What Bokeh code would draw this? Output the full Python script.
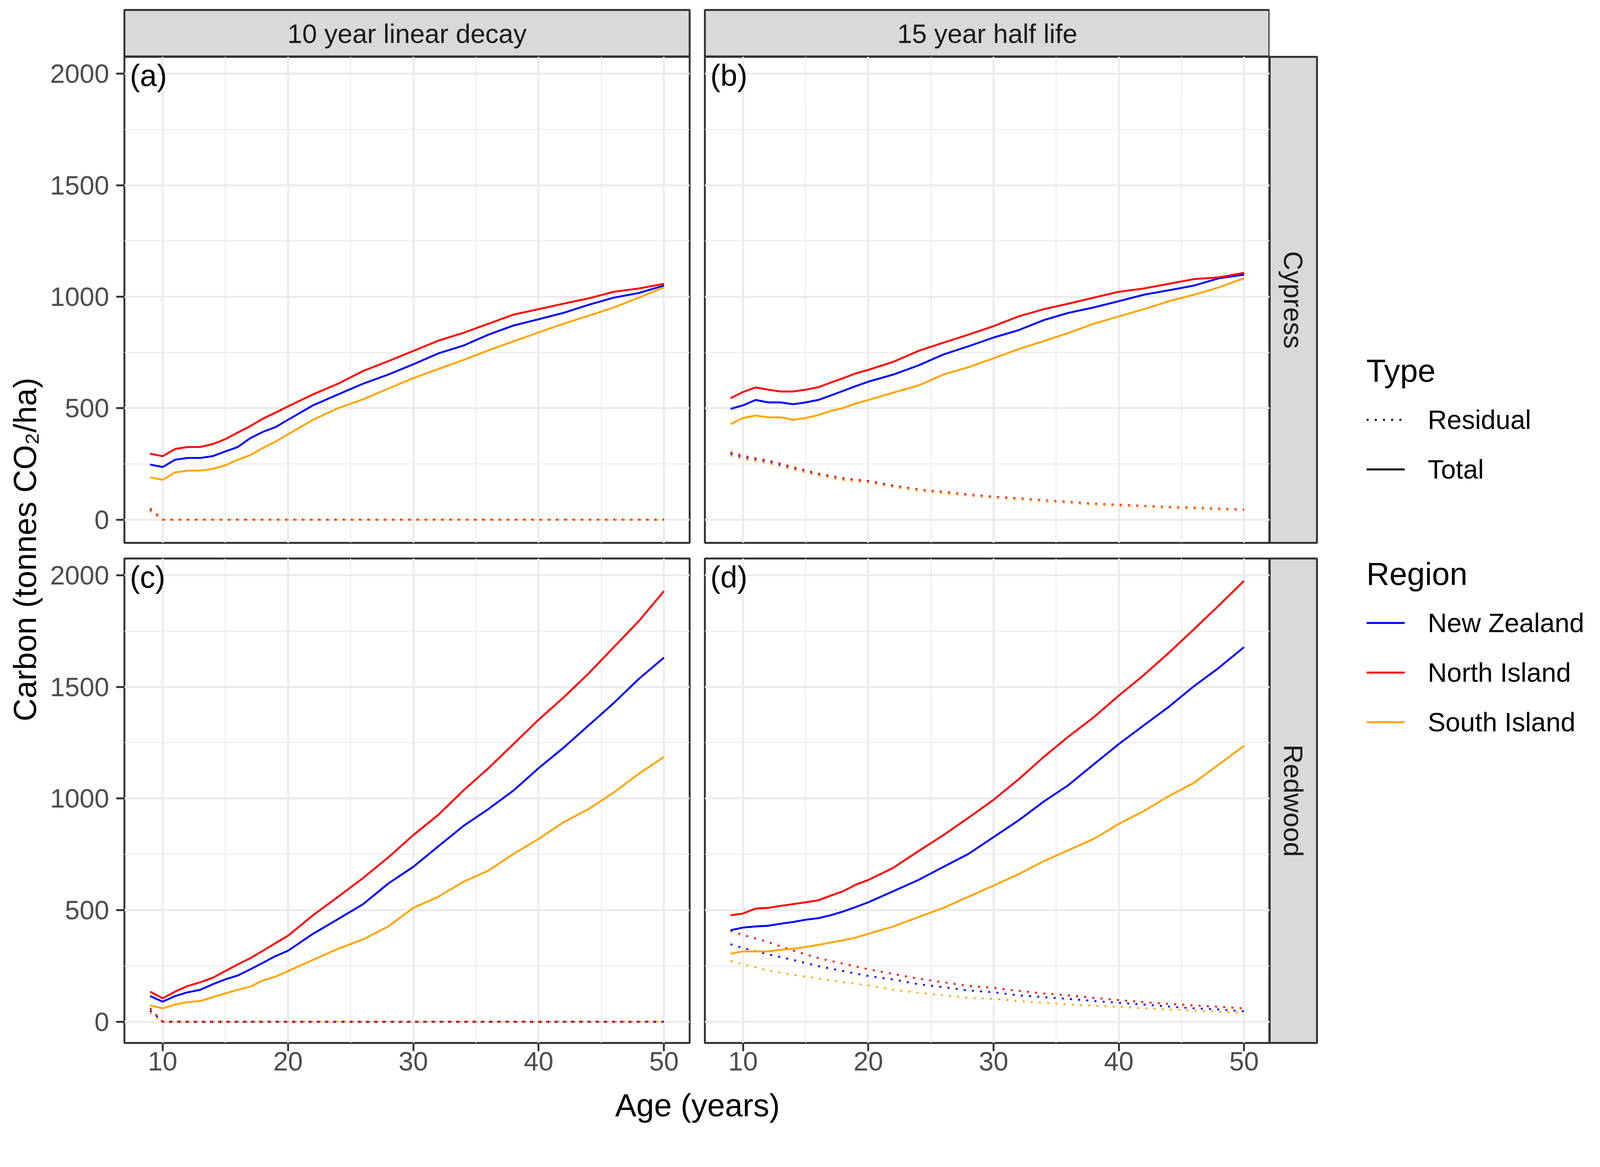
from math import pi
from bokeh.plotting import figure
from bokeh.models import Range1d, FixedTicker, LinearAxis, Legend, LegendItem, Label, Spacer, Grid
from bokeh.layouts import row, column
from bokeh.embed import file_html
from bokeh.resources import INLINE

# ---------------- data ----------------
COL_LABELS = ["10 year linear decay", "15 year half life"]
ROW_LABELS = ["Cypress", "Redwood"]
PANEL_TAGS = ["(a)", "(b)", "(c)", "(d)"]
REGIONS = ["New Zealand", "North Island", "South Island"]
REGION_COLORS = ["#0000FF", "#FF0000", "#FFA500"]
TYPES = ["Residual", "Total"]

X_TICKS = [10, 20, 30, 40, 50]
X_MINOR = [15, 25, 35, 45]
Y_TICKS = [0, 500, 1000, 1500, 2000]
Y_MINOR = [250, 750, 1250, 1750]

AGE = [9, 10, 11, 12, 13, 14, 15, 16, 17, 18, 19, 20, 22, 24, 26, 28, 30, 32, 34, 36, 38, 40, 42, 44, 46, 48, 50]
AGE_R = [9, 10, 12, 14, 16, 18, 20, 22, 24, 26, 28, 30, 32, 34, 36, 38, 40, 42, 44, 46, 48, 50]

# (a) Cypress, 10 year linear decay
A_TOT_NZ = [247, 236, 269, 277, 277, 285, 306, 326, 366, 394, 415, 448, 513, 562, 610, 651, 697, 746, 781, 830, 871, 899, 928, 964, 996, 1017, 1050]
A_TOT_NI = [296, 285, 317, 326, 326, 339, 361, 391, 420, 453, 480, 508, 562, 610, 667, 711, 757, 803, 838, 879, 920, 944, 969, 993, 1022, 1037, 1058]
A_TOT_SI = [190, 179, 212, 220, 220, 228, 244, 269, 290, 322, 350, 383, 448, 500, 540, 588, 635, 676, 716, 760, 800, 840, 879, 915, 952, 996, 1042]
A_RES_NZ = [45, 0, 0, 0, 0, 0, 0, 0, 0, 0, 0, 0, 0, 0, 0, 0, 0, 0, 0, 0, 0, 0]
A_RES_NI = [50, 0, 0, 0, 0, 0, 0, 0, 0, 0, 0, 0, 0, 0, 0, 0, 0, 0, 0, 0, 0, 0]
A_RES_SI = [40, 0, 0, 0, 0, 0, 0, 0, 0, 0, 0, 0, 0, 0, 0, 0, 0, 0, 0, 0, 0, 0]

# (b) Cypress, 15 year half life
B_TOT_NZ = [497, 513, 537, 526, 526, 518, 526, 537, 557, 578, 599, 619, 651, 692, 741, 778, 817, 850, 895, 928, 952, 980, 1009, 1029, 1050, 1083, 1099]
B_TOT_NI = [545, 573, 593, 583, 575, 575, 583, 594, 615, 635, 656, 672, 708, 757, 794, 830, 868, 912, 944, 969, 996, 1022, 1037, 1058, 1079, 1087, 1107]
B_TOT_SI = [428, 456, 467, 459, 459, 448, 456, 469, 488, 501, 521, 537, 570, 602, 651, 684, 724, 765, 801, 838, 879, 912, 944, 980, 1009, 1042, 1083]
B_RES_NZ = [296, 280, 260, 231, 203, 182, 171, 150, 133, 122, 111, 101, 94, 85, 78, 70, 65, 60, 55, 52, 47, 44]
B_RES_NI = [302, 286, 266, 236, 207, 186, 174, 153, 136, 125, 113, 103, 96, 87, 80, 72, 67, 62, 57, 54, 49, 46]
B_RES_SI = [288, 273, 253, 225, 198, 177, 166, 146, 130, 119, 108, 98, 91, 83, 76, 68, 63, 58, 53, 50, 45, 42]

# (c) Redwood, 10 year linear decay
C_TOT_NZ = [115, 90, 115, 132, 143, 168, 190, 207, 235, 264, 294, 318, 394, 460, 527, 619, 694, 786, 877, 953, 1036, 1136, 1228, 1328, 1428, 1536, 1631]
C_TOT_NI = [135, 105, 135, 160, 177, 197, 227, 257, 285, 318, 352, 385, 477, 560, 644, 736, 836, 927, 1036, 1136, 1244, 1353, 1453, 1561, 1678, 1795, 1929]
C_TOT_SI = [73, 60, 77, 88, 93, 110, 127, 143, 157, 185, 202, 227, 277, 327, 369, 427, 510, 560, 627, 677, 752, 819, 894, 953, 1027, 1111, 1186]
C_RES_NZ = [50, 0, 0, 0, 0, 0, 0, 0, 0, 0, 0, 0, 0, 0, 0, 0, 0, 0, 0, 0, 0, 0]
C_RES_NI = [60, 0, 0, 0, 0, 0, 0, 0, 0, 0, 0, 0, 0, 0, 0, 0, 0, 0, 0, 0, 0, 0]
C_RES_SI = [40, 0, 0, 0, 0, 0, 0, 0, 0, 0, 0, 0, 0, 0, 0, 0, 0, 0, 0, 0, 0, 0]

# (d) Redwood, 15 year half life
D_TOT_NZ = [410, 422, 427, 430, 439, 447, 457, 464, 477, 494, 514, 535, 585, 635, 694, 752, 827, 902, 986, 1061, 1153, 1244, 1328, 1411, 1503, 1586, 1678]
D_TOT_NI = [477, 485, 507, 510, 519, 527, 535, 544, 565, 585, 614, 635, 690, 764, 836, 914, 994, 1086, 1186, 1278, 1364, 1461, 1553, 1653, 1758, 1865, 1975]
D_TOT_SI = [305, 315, 315, 315, 322, 327, 335, 344, 355, 365, 377, 394, 427, 469, 510, 560, 610, 661, 719, 769, 819, 886, 944, 1011, 1070, 1153, 1236]
D_RES_NZ = [347, 330, 302, 277, 249, 227, 205, 189, 168, 155, 140, 132, 118, 110, 102, 93, 85, 77, 68, 60, 55, 47]
D_RES_NI = [407, 389, 357, 319, 285, 260, 235, 214, 193, 177, 160, 152, 138, 127, 118, 107, 97, 88, 80, 73, 67, 60]
D_RES_SI = [272, 257, 230, 210, 194, 177, 163, 143, 130, 118, 107, 102, 93, 85, 77, 72, 67, 60, 55, 50, 45, 40]

X_LABEL = "Age (years)"
Y_LABEL = "Carbon (tonnes CO\u2082/ha)"

# ---------------- style / layout ----------------
Z = 1.03  # design px -> css px


def c(v):
    return int(round(v / Z))


def fs(v):
    return f"{v / Z:.1f}px"


FONT = "Liberation Sans"
BORDER = "#333333"
STRIP_FILL = "#D9D9D9"
GRID = "#EBEBEB"
X_RANGE = (6.95, 52.05)
Y_RANGE_TOP = (-104, 2076)
Y_RANGE_BOT = (-95, 2075)
LW = 5 / Z
DOT = "5 16"

# design positions (px from page origin)
X_COL1, X_A0, X_A1, X_COL2, X_B0, X_B1, X_RS1, X_LG, X_END = 120, 328, 1818, 1838, 1858, 3348, 3472, 3475, 4211
Y_S0, Y_P0, Y_P1, Y_MID, Y_C0, Y_C1, Y_MAIN, Y_END = 26, 149, 1431, 1451, 1472, 2749, 2862, 2971

YL_W = c(X_COL1)
L1 = c(X_A0) - c(X_COL1)
FW1 = c(X_A1) - c(X_A0)
R1 = c(X_COL2) - c(X_A1)
L2 = c(X_B0) - c(X_COL2)
FW2 = c(X_B1) - c(X_B0)
RSW = c(X_RS1) - c(X_B1)
RSR = c(X_LG) - c(X_RS1)
LG_W = c(X_END) - c(X_LG)
TOTAL_W = c(X_END)

TOP_M = c(Y_S0)
STRIP_H = c(Y_P0) - c(Y_S0)
FH1 = c(Y_P1) - c(Y_P0)
B1 = c(Y_MID) - c(Y_P1)
T2 = c(Y_C0) - c(Y_MID)
FH2 = c(Y_C1) - c(Y_C0)
B2 = c(Y_MAIN) - c(Y_C1)
MAIN_H = c(Y_MAIN)
XL_H = c(Y_END) - c(Y_MAIN)


def base_fig(fw, fh, xr, yr, l, r, t, b, **kw):
    p = figure(frame_width=fw, frame_height=fh, x_range=Range1d(*xr), y_range=Range1d(*yr),
               output_backend="svg", toolbar_location=None,
               x_axis_location=None, y_axis_location=None,
               min_border=0, min_border_left=l, min_border_right=r,
               min_border_top=t, min_border_bottom=b,
               border_fill_color="white", **kw)
    p.grid.visible = False
    return p


def style_axis(ax, standoff):
    ax.axis_line_color = None
    ax.major_tick_line_color = BORDER
    ax.major_tick_line_width = LW
    ax.major_tick_out = c(22)
    ax.major_tick_in = 0
    ax.minor_tick_line_color = None
    ax.major_label_text_font = FONT
    ax.major_label_text_font_size = fs(70)
    ax.major_label_text_color = "#4D4D4D"
    ax.major_label_standoff = standoff


def make_panel(tag, yr, fw, fh, totals, resids, left_axis, bottom_axis, l, r, t, b):
    p = base_fig(fw, fh, X_RANGE, yr, l, r, t, b, background_fill_color="white")
    p.outline_line_color = BORDER
    p.outline_line_width = LW
    p.add_layout(Grid(dimension=0, ticker=FixedTicker(ticks=X_TICKS, minor_ticks=X_MINOR),
                      grid_line_color=GRID, grid_line_width=LW,
                      minor_grid_line_color=GRID, minor_grid_line_width=LW / 2))
    p.add_layout(Grid(dimension=1, ticker=FixedTicker(ticks=Y_TICKS, minor_ticks=Y_MINOR),
                      grid_line_color=GRID, grid_line_width=LW,
                      minor_grid_line_color=GRID, minor_grid_line_width=LW / 2))
    if left_axis:
        ay = LinearAxis(ticker=FixedTicker(ticks=Y_TICKS))
        style_axis(ay, c(19))
        p.add_layout(ay, "left")
    if bottom_axis:
        ax = LinearAxis(ticker=FixedTicker(ticks=X_TICKS))
        style_axis(ax, c(2))
        p.add_layout(ax, "below")

    for reg, col in zip(REGIONS, REGION_COLORS):
        p.line(AGE_R, resids[reg], line_color=col, line_width=LW, line_dash=DOT)
    for reg, col in zip(REGIONS, REGION_COLORS):
        p.line(AGE, totals[reg], line_color=col, line_width=LW, line_join="round")

    p.add_layout(Label(x=X_RANGE[0], y=yr[1], text=tag, x_offset=c(14), y_offset=-c(4),
                       text_align="left", text_baseline="top",
                       text_font=FONT, text_font_size=fs(80), text_color="black"))
    return p


def make_strip(text, fw, fh, l, r, t, b, angle):
    s = base_fig(fw, fh, (0, 1), (0, 1), l, r, t, b, background_fill_color=STRIP_FILL)
    s.outline_line_color = BORDER
    s.outline_line_width = LW
    s.add_layout(Label(x=0.5, y=0.5, text=text, angle=angle, text_align="center",
                       text_baseline="middle", text_font=FONT, text_font_size=fs(70),
                       text_color="#1A1A1A"))
    return s


tot = {
    "a": dict(zip(REGIONS, [A_TOT_NZ, A_TOT_NI, A_TOT_SI])),
    "b": dict(zip(REGIONS, [B_TOT_NZ, B_TOT_NI, B_TOT_SI])),
    "c": dict(zip(REGIONS, [C_TOT_NZ, C_TOT_NI, C_TOT_SI])),
    "d": dict(zip(REGIONS, [D_TOT_NZ, D_TOT_NI, D_TOT_SI])),
}
res = {
    "a": dict(zip(REGIONS, [A_RES_NZ, A_RES_NI, A_RES_SI])),
    "b": dict(zip(REGIONS, [B_RES_NZ, B_RES_NI, B_RES_SI])),
    "c": dict(zip(REGIONS, [C_RES_NZ, C_RES_NI, C_RES_SI])),
    "d": dict(zip(REGIONS, [D_RES_NZ, D_RES_NI, D_RES_SI])),
}

strip_a = make_strip(COL_LABELS[0], FW1, STRIP_H, L1, R1, TOP_M, 0, 0)
strip_b = make_strip(COL_LABELS[1], FW2, STRIP_H, L2, 0, TOP_M, 0, 0)
p_a = make_panel(PANEL_TAGS[0], Y_RANGE_TOP, FW1, FH1, tot["a"], res["a"], True, False, L1, R1, 0, B1)
p_b = make_panel(PANEL_TAGS[1], Y_RANGE_TOP, FW2, FH1, tot["b"], res["b"], False, False, L2, 0, 0, B1)
p_c = make_panel(PANEL_TAGS[2], Y_RANGE_BOT, FW1, FH2, tot["c"], res["c"], True, True, L1, R1, T2, B2)
p_d = make_panel(PANEL_TAGS[3], Y_RANGE_BOT, FW2, FH2, tot["d"], res["d"], False, True, L2, 0, T2, B2)
rs1 = make_strip(ROW_LABELS[0], RSW, FH1, 0, RSR, 3, B1, -pi / 2)
rs2 = make_strip(ROW_LABELS[1], RSW, FH2, 0, RSR, T2, 3, -pi / 2)

# y axis title
yl = base_fig(YL_W, MAIN_H, (0, YL_W), (MAIN_H, 0), 0, 0, 0, 0, background_fill_color="white")
yl.outline_line_color = None
yl.add_layout(Label(x=c(65), y=c(1448), text=Y_LABEL, angle=pi / 2, text_align="center",
                    text_baseline="middle", text_font=FONT, text_font_size=fs(84), text_color="black"))

# x axis title
xl = base_fig(TOTAL_W, XL_H, (0, TOTAL_W), (XL_H, 0), 0, 0, 0, 0, background_fill_color="white")
xl.outline_line_color = None
xl.add_layout(Label(x=c(1839), y=c(50), text=X_LABEL, text_align="center", text_baseline="middle",
                    text_font=FONT, text_font_size=fs(84), text_color="black"))

# legends (key renderers reuse panel (b) data, which lies outside this figure's 0..1 view)
lg = base_fig(LG_W, MAIN_H, (0, 1), (0, 1), 0, 0, 0, 0, background_fill_color="white")
lg.outline_line_color = None
r_res = lg.line(AGE_R, B_RES_NZ, line_color="black", line_width=LW, line_dash=DOT)
r_tot = lg.line(AGE, B_TOT_NZ, line_color="black", line_width=LW)
r_regs = [lg.line(AGE, tot["b"][reg], line_color=col, line_width=LW)
          for reg, col in zip(REGIONS, REGION_COLORS)]


def style_legend(leg):
    leg.glyph_width = c(101)
    leg.glyph_height = c(80)
    leg.label_height = c(80)
    leg.spacing = c(50)
    leg.label_standoff = c(61)
    leg.padding = 0
    leg.margin = 0
    leg.border_line_color = None
    leg.background_fill_alpha = 0
    leg.label_text_font = FONT
    leg.label_text_font_size = fs(70)
    leg.label_text_color = "black"
    leg.title_text_font = FONT
    leg.title_text_font_size = fs(84)
    leg.title_text_font_style = "normal"
    leg.title_text_color = "black"
    leg.title_standoff = c(40)


leg1 = Legend(items=[LegendItem(label=TYPES[0], renderers=[r_res]),
                     LegendItem(label=TYPES[1], renderers=[r_tot])],
              title="Type", location=(c(128), c(1585)))
leg2 = Legend(items=[LegendItem(label=n, renderers=[r]) for n, r in zip(REGIONS, r_regs)],
              title="Region", location=(c(128), c(919)))
style_legend(leg1)
style_legend(leg2)
lg.add_layout(leg1)
lg.add_layout(leg2)

col1 = column(strip_a, p_a, p_c)
col2 = column(strip_b, p_b, p_d)
col3 = column(Spacer(width=RSW + RSR, height=c(Y_P0) - 3), rs1, rs2)
main = row(yl, col1, col2, col3, lg)
page = column(main, xl)

open("out.html", "w").write(file_html(page, INLINE))
